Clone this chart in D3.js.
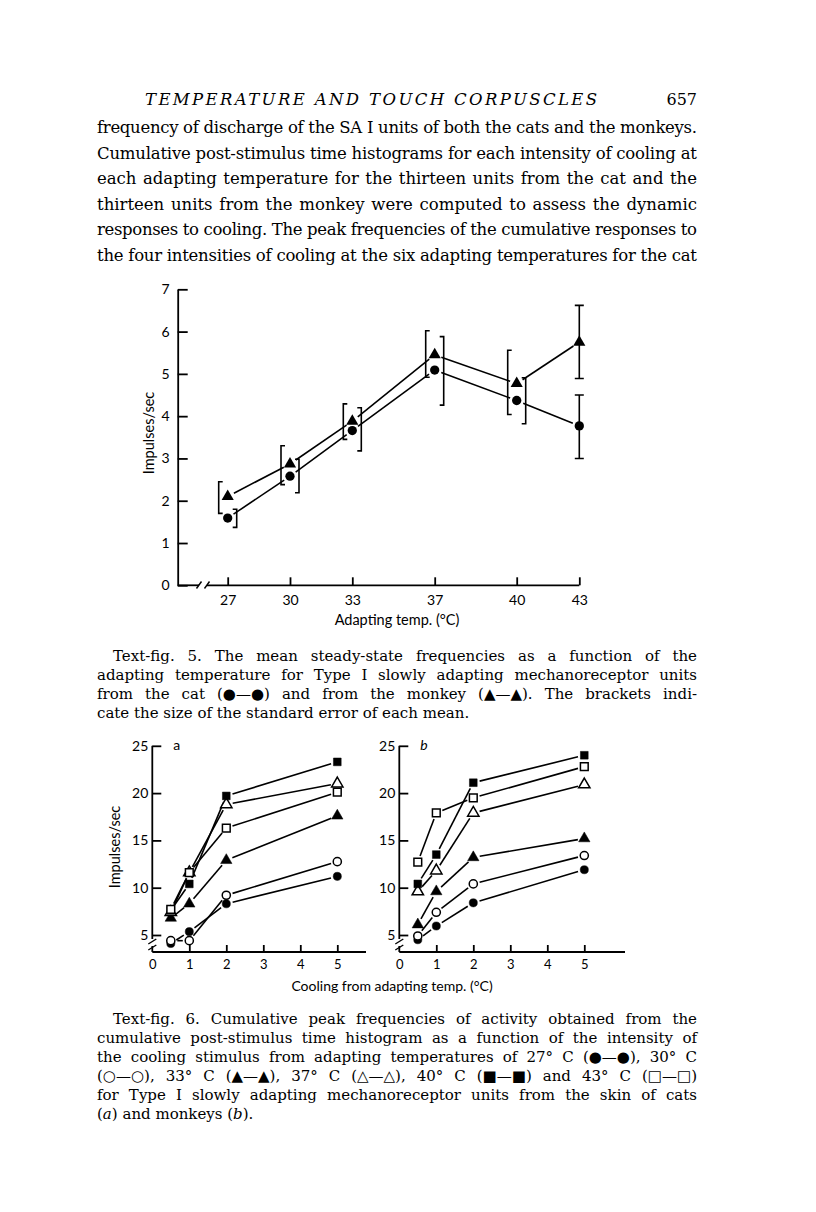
<!DOCTYPE html>
<html>
<head>
<meta charset="utf-8">
<script src="https://cdn.jsdelivr.net/npm/d3@7"></script>
<style>
  html, body { margin: 0; padding: 0; background: #fff; }
  svg { display: block; }
</style>
</head>
<body>
<script>
// ---------------- DATA ----------------
// Text-fig. 5
const fig5Temps = [27, 30, 33, 37, 40, 43];
const fig5YTicks = [0, 1, 2, 3, 4, 5, 6, 7];
const catMean = [1.59, 2.58, 3.66, 5.09, 4.37, 3.77];
const catLo   = [1.37, 2.19, 3.18, 4.26, 3.82, 3.00];
const catHi   = [1.80, 2.98, 4.20, 5.88, 4.91, 4.50];
const monkeyMean = [2.10, 2.87, 3.88, 5.45, 4.77, 5.75];
const monkeyLo   = [1.70, 2.38, 3.45, 4.92, 4.04, 4.89];
const monkeyHi   = [2.45, 3.30, 4.29, 6.02, 5.56, 6.62];

// Text-fig. 6
const coolX = [0.5, 1, 2, 5];
const fig6XTicks = [0, 1, 2, 3, 4, 5];
const fig6YTicks = [5, 10, 15, 20, 25];
// cats (a)
const a27 = [4.1, 5.35, 8.3, 11.2];
const a30 = [4.4, 4.4, 9.2, 12.75];
const a33 = [6.8, 8.3, 12.9, 17.6];
const a37 = [7.4, 11.6, 18.8, 21.0];
const a40 = [7.6, 10.4, 19.7, 23.3];
const a43 = [7.7, 11.6, 16.3, 20.1];
// monkeys (b)
const b27 = [4.5, 5.95, 8.4, 11.9];
const b30 = [4.9, 7.4, 10.4, 13.4];
const b33 = [6.1, 9.6, 13.2, 15.2];
const b37 = [9.6, 11.8, 17.9, 20.9];
const b40 = [10.4, 13.5, 21.1, 24.0];
const b43 = [12.7, 17.9, 19.5, 22.8];

// text
const headerTitle = "TEMPERATURE AND TOUCH CORPUSCLES";
const pageNumber = "657";
const bodyLines = [
  "frequency of discharge of the SA I units of both the cats and the monkeys.",
  "Cumulative post-stimulus time histograms for each intensity of cooling at",
  "each adapting temperature for the thirteen units from the cat and the",
  "thirteen units from the monkey were computed to assess the dynamic",
  "responses to cooling. The peak frequencies of the cumulative responses to",
  "the four intensities of cooling at the six adapting temperatures for the cat"
];
const caption5 = [
  "Text-fig. 5. The mean steady-state frequencies as a function of the",
  "adapting temperature for Type I slowly adapting mechanoreceptor units",
  "from the cat (\u25CF\u2014\u25CF) and from the monkey (\u25B2\u2014\u25B2). The brackets indi-",
  "cate the size of the standard error of each mean."
];
const caption6 = [
  "Text-fig. 6. Cumulative peak frequencies of activity obtained from the",
  "cumulative post-stimulus time histogram as a function of the intensity of",
  "the cooling stimulus from adapting temperatures of 27\u00B0 C (\u25CF\u2014\u25CF), 30\u00B0 C",
  "(\u25CB\u2014\u25CB), 33\u00B0 C (\u25B2\u2014\u25B2), 37\u00B0 C (\u25B3\u2014\u25B3), 40\u00B0 C (\u25A0\u2014\u25A0) and 43\u00B0 C (\u25A1\u2014\u25A1)",
  "for Type I slowly adapting mechanoreceptor units from the skin of cats"
];

// ---------------- SETUP ----------------
const W = 816, H = 1212;
const svg = d3.select("body").append("svg").attr("width", W).attr("height", H);
svg.append("rect").attr("width", W).attr("height", H).attr("fill", "#fff");

const SERIF = "'DejaVu Serif', 'Liberation Serif', serif";
const SANS = "Lato, 'Open Sans', 'DejaVu Sans', sans-serif";
const LEFT = 97, RIGHT = 697;

function justify(textSel, target) {
  const node = textSel.node();
  const len = node.getComputedTextLength();
  const str = node.textContent;
  const n = (str.match(/ /g) || []).length;
  if (len < target && n > 0) {
    textSel.style("word-spacing", ((target - len) / n) + "px");
  } else if (len > target) {
    textSel.attr("textLength", target).attr("lengthAdjust", "spacing");
  }
}

// ---------------- HEADER & BODY ----------------
svg.append("text").attr("x", 145).attr("y", 105)
  .attr("font-family", SERIF).attr("font-style", "italic").attr("font-size", 16.5)
  .attr("textLength", 452).attr("lengthAdjust", "spacing")
  .text(headerTitle);
svg.append("text").attr("x", RIGHT).attr("y", 105).attr("text-anchor", "end")
  .attr("font-family", SERIF).attr("font-size", 16).text(pageNumber);

bodyLines.forEach((s, i) => {
  const t = svg.append("text").attr("x", LEFT).attr("y", 133 + i * 25.6)
    .attr("font-family", SERIF).attr("font-size", 16.5).text(s);
  justify(t, RIGHT - LEFT);
});

// ---------------- FIGURE 5 ----------------
const f5x = d3.scaleLinear().domain(fig5Temps).range([227.7, 290, 352.3, 434.7, 516.7, 579.3]);
const f5y = d3.scaleLinear().domain([0, 7]).range([585.3, 289.3]);
const g5 = svg.append("g");
const yAxis5X = 177.7;

g5.append("g").attr("transform", `translate(${yAxis5X},0)`)
  .call(d3.axisLeft(f5y).tickValues(fig5YTicks).tickFormat(d3.format("d"))
    .tickSizeInner(-10).tickSizeOuter(0).tickPadding(8))
  .call(g => {
    g.select(".domain").attr("stroke-width", 1.8);
    g.selectAll(".tick line").attr("stroke-width", 1.8);
    g.selectAll("text").attr("font-family", SANS).attr("font-size", 14).attr("fill", "#000");
  });

const xAxisY5 = f5y(0);
g5.append("line").attr("x1", yAxis5X).attr("x2", 199).attr("y1", xAxisY5).attr("y2", xAxisY5)
  .attr("stroke", "#000").attr("stroke-width", 1.8);
g5.append("line").attr("x1", 207).attr("x2", f5x(43)).attr("y1", xAxisY5).attr("y2", xAxisY5)
  .attr("stroke", "#000").attr("stroke-width", 1.8);
[[196.5, 588.5, 201.5, 581.5], [204.5, 588.5, 209.5, 581.5]].forEach(s => {
  g5.append("line").attr("x1", s[0]).attr("y1", s[1]).attr("x2", s[2]).attr("y2", s[3])
    .attr("stroke", "#000").attr("stroke-width", 1.4);
});
g5.append("g").attr("transform", `translate(0,${xAxisY5})`)
  .call(d3.axisBottom(f5x).tickValues(fig5Temps).tickFormat(d3.format("d"))
    .tickSizeInner(-8).tickSizeOuter(0).tickPadding(10))
  .call(g => {
    g.select(".domain").remove();
    g.selectAll(".tick line").attr("stroke-width", 1.8);
    g.selectAll("text").attr("font-family", SANS).attr("font-size", 14).attr("fill", "#000");
  });

g5.append("text").attr("x", 397).attr("y", 625).attr("text-anchor", "middle")
  .attr("font-family", SANS).attr("font-size", 14.5).text("Adapting temp. (\u00B0C)");
g5.append("text").attr("transform", `translate(154,433) rotate(-90)`).attr("text-anchor", "middle")
  .attr("font-family", SANS).attr("font-size", 14.5).text("Impulses/sec");

function segLines(g, pts, gap, sw) {
  for (let i = 0; i < pts.length - 1; i++) {
    const [x1, y1] = pts[i], [x2, y2] = pts[i + 1];
    const dx = x2 - x1, dy = y2 - y1, L = Math.hypot(dx, dy);
    if (L < 2 * gap + 1) continue;
    const ux = dx / L, uy = dy / L;
    g.append("line")
      .attr("x1", x1 + ux * gap).attr("y1", y1 + uy * gap)
      .attr("x2", x2 - ux * gap).attr("y2", y2 - uy * gap)
      .attr("stroke", "#000").attr("stroke-width", sw);
  }
}

const catPts = fig5Temps.map((t, i) => [f5x(t), f5y(catMean[i])]);
const monPts = fig5Temps.map((t, i) => [f5x(t), f5y(monkeyMean[i])]);
segLines(g5, catPts, 7, 1.6);
segLines(g5, monPts, 7, 1.6);

fig5Temps.forEach((t, i) => {
  const cx = f5x(t);
  if (i < fig5Temps.length - 1) {
    const xl = cx - 9;
    g5.append("path").attr("d",
      `M${xl + 4},${f5y(monkeyHi[i])}H${xl}V${f5y(monkeyLo[i])}H${xl + 4}`)
      .attr("fill", "none").attr("stroke", "#000").attr("stroke-width", 1.6);
    const xr = cx + 9;
    g5.append("path").attr("d",
      `M${xr - 4},${f5y(catHi[i])}H${xr}V${f5y(catLo[i])}H${xr - 4}`)
      .attr("fill", "none").attr("stroke", "#000").attr("stroke-width", 1.6);
  } else {
    [[monkeyLo[i], monkeyHi[i]], [catLo[i], catHi[i]]].forEach(([lo, hi]) => {
      g5.append("path").attr("d",
        `M${cx - 4.5},${f5y(hi)}H${cx + 4.5}M${cx},${f5y(hi)}V${f5y(lo)}M${cx - 4.5},${f5y(lo)}H${cx + 4.5}`)
        .attr("fill", "none").attr("stroke", "#000").attr("stroke-width", 1.6);
    });
  }
});
g5.selectAll(".cat").data(catPts).enter().append("path")
  .attr("transform", d => `translate(${d[0]},${d[1]})`)
  .attr("d", d3.symbol().type(d3.symbolCircle).size(68)).attr("fill", "#000");
g5.selectAll(".mon").data(monPts).enter().append("path")
  .attr("transform", d => `translate(${d[0]},${d[1]})`)
  .attr("d", d3.symbol().type(d3.symbolTriangle).size(64)).attr("fill", "#000");

caption5.forEach((s, i) => {
  const x0 = i === 0 ? 113 : LEFT;
  const t = svg.append("text").attr("x", x0).attr("y", 661 + i * 19)
    .attr("font-family", SERIF).attr("font-size", 15).text(s);
  if (i < caption5.length - 1) justify(t, RIGHT - x0);
});

// ---------------- FIGURE 6 ----------------
const markerDefs = {
  27: { type: d3.symbolCircle, size: 52, fill: "#000" },
  30: { type: d3.symbolCircle, size: 52, fill: "#fff" },
  33: { type: d3.symbolTriangle, size: 56, fill: "#000" },
  37: { type: d3.symbolTriangle, size: 56, fill: "#fff" },
  40: { type: d3.symbolSquare, size: 60, fill: "#000" },
  43: { type: d3.symbolSquare, size: 60, fill: "#fff" }
};

function panel(x0, xAxisEnd, seriesList, letter, italic) {
  const x = d3.scaleLinear().domain([0, 5]).range([x0, x0 + 185]);
  const y = d3.scaleLinear().domain([5, 25]).range([935, 745.8]);
  const g = svg.append("g");
  const axisY = 952;
  g.append("line").attr("x1", x0).attr("x2", x0).attr("y1", y(25)).attr("y2", 939)
    .attr("stroke", "#000").attr("stroke-width", 1.8);
  g.append("line").attr("x1", x0).attr("x2", x0).attr("y1", 946).attr("y2", axisY)
    .attr("stroke", "#000").attr("stroke-width", 1.8);
  [941.5, 947.5].forEach(yy => {
    g.append("line").attr("x1", x0 - 4).attr("y1", yy + 2.5).attr("x2", x0 + 4).attr("y2", yy - 2.5)
      .attr("stroke", "#000").attr("stroke-width", 1.4);
  });
  g.append("g").attr("transform", `translate(${x0},0)`)
    .call(d3.axisLeft(y).tickValues(fig6YTicks).tickFormat(d3.format("d"))
      .tickSizeInner(-9).tickSizeOuter(0).tickPadding(4))
    .call(gg => {
      gg.select(".domain").remove();
      gg.selectAll(".tick line").attr("stroke-width", 1.8);
      gg.selectAll("text").attr("font-family", SANS).attr("font-size", 14).attr("fill", "#000");
    });
  g.append("line").attr("x1", x0).attr("x2", xAxisEnd).attr("y1", axisY).attr("y2", axisY)
    .attr("stroke", "#000").attr("stroke-width", 1.8);
  g.append("g").attr("transform", `translate(0,${axisY})`)
    .call(d3.axisBottom(x).tickValues(fig6XTicks).tickFormat(d3.format("d"))
      .tickSizeInner(-7).tickSizeOuter(0).tickPadding(8))
    .call(gg => {
      gg.select(".domain").remove();
      gg.selectAll(".tick line").attr("stroke-width", 1.8)
        .filter(d => d === 0).remove();
      gg.selectAll("text").attr("font-family", SANS).attr("font-size", 13).attr("fill", "#000");
    });
  g.append("text").attr("x", x0 + 21).attr("y", 750)
    .attr("font-family", SANS).attr("font-size", 14)
    .attr("font-style", italic ? "italic" : "normal").text(letter);

  seriesList.forEach(([temp, vals]) => {
    const pts = coolX.map((c, i) => [x(c), y(vals[i])]);
    segLines(g, pts, 6.5, 1.6);
  });
  seriesList.forEach(([temp, vals]) => {
    const m = markerDefs[temp];
    const pts = coolX.map((c, i) => [x(c), y(vals[i])]);
    g.selectAll(null).data(pts).enter().append("path")
      .attr("transform", d => `translate(${d[0]},${d[1]})`)
      .attr("d", d3.symbol().type(m.type).size(m.size))
      .attr("fill", m.fill).attr("stroke", "#000").attr("stroke-width", m.fill === "#fff" ? 1.5 : 0.5);
  });
  return g;
}

panel(152.3, 366, [[27, a27], [30, a30], [33, a33], [37, a37], [40, a40], [43, a43]], "a", false);
panel(399.3, 625, [[27, b27], [30, b30], [33, b33], [37, b37], [40, b40], [43, b43]], "b", true);

svg.append("text").attr("transform", `translate(120,847) rotate(-90)`).attr("text-anchor", "middle")
  .attr("font-family", SANS).attr("font-size", 14.5).text("Impulses/sec");
svg.append("text").attr("x", 392).attr("y", 991).attr("text-anchor", "middle")
  .attr("font-family", SANS).attr("font-size", 14).text("Cooling from adapting temp. (\u00B0C)");

caption6.forEach((s, i) => {
  const x0 = i === 0 ? 113 : LEFT;
  const t = svg.append("text").attr("x", x0).attr("y", 1024 + i * 19)
    .attr("font-family", SERIF).attr("font-size", 15).text(s);
  justify(t, RIGHT - x0);
});
const last = svg.append("text").attr("x", LEFT).attr("y", 1024 + 5 * 19)
  .attr("font-family", SERIF).attr("font-size", 15);
last.append("tspan").text("(");
last.append("tspan").attr("font-style", "italic").text("a");
last.append("tspan").text(") and monkeys (");
last.append("tspan").attr("font-style", "italic").text("b");
last.append("tspan").text(").");
</script>
</body>
</html>
